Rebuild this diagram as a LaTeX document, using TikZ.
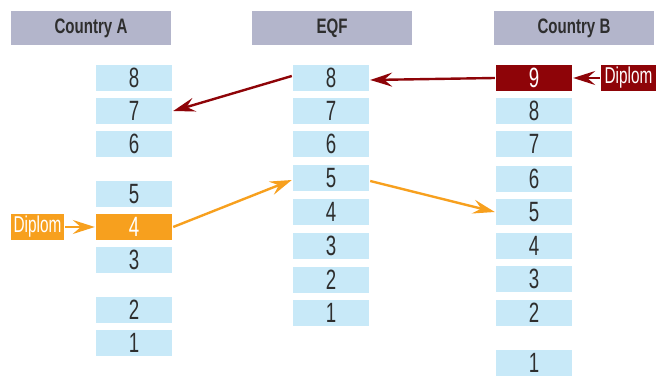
\documentclass[tikz,border=0pt]{standalone}
\usepackage{fontspec}
\setmainfont{Liberation Sans}[FakeStretch=0.8]
\newfontfamily\condfont{Liberation Sans}[FakeStretch=0.67]
\newfontfamily\headfont{Liberation Sans}[FakeStretch=0.72]
\usepackage{tikz}
\usetikzlibrary{arrows.meta}
\usetikzlibrary{shapes}
\definecolor{levelblue}{HTML}{C8E9F8}
\definecolor{headgray}{HTML}{B3B5CB}
\definecolor{diplred}{HTML}{8E0408}
\definecolor{diplorange}{HTML}{F7A01E}
\definecolor{numgray}{HTML}{2E2E2E}
\tikzset{
  level/.style={fill=levelblue,draw=none,minimum width=76bp,minimum height=26bp,inner sep=0pt,text=numgray,font=\condfont\fontsize{28}{28}\selectfont},
  head/.style={fill=headgray,draw=none,minimum width=160bp,minimum height=34bp,inner sep=0pt,text=numgray,font=\headfont\fontsize{21}{21}\selectfont\bfseries},
  diplom/.style={draw=none,minimum height=26bp,inner sep=0pt,text=white,font=\condfont\fontsize{23}{23}\selectfont},
}
\begin{document}
\begin{tikzpicture}[>={Stealth[length=22bp,width=14bp,inset=8bp]},line join=bevel,line width=2.4bp]
\useasboundingbox (0bp,0bp) rectangle (656bp,376bp);
%%
\node (head_a) at (91bp,348bp) [head] {Country A};
  \node (head_e) at (332bp,348bp) [head] {EQF};
  \node (head_b) at (574bp,348bp) [head] {Country B};
%
\node (node_a8) at (134bp,298bp) [level] {8};
  \node (node_a7) at (134bp,265bp) [level] {7};
  \node (node_a6) at (134bp,232bp) [level] {6};
  \node (node_a5) at (134bp,182bp) [level] {5};
  \node (node_a4) at (134bp,149bp) [level,fill=diplorange,text=white] {4};
  \node (node_a3) at (134bp,116bp) [level] {3};
  \node (node_a2) at (134bp,66bp) [level] {2};
  \node (node_a1) at (134bp,33bp) [level] {1};
%
\node (node_e8) at (331bp,298bp) [level] {8};
  \node (node_e7) at (331bp,265bp) [level] {7};
  \node (node_e6) at (331bp,232bp) [level] {6};
  \node (node_e5) at (331bp,198bp) [level] {5};
  \node (node_e4) at (331bp,164bp) [level] {4};
  \node (node_e3) at (331bp,130bp) [level] {3};
  \node (node_e2) at (331bp,96bp) [level] {2};
  \node (node_e1) at (331bp,63bp) [level] {1};
%
\node (node_b9) at (534bp,298bp) [level,fill=diplred,text=white] {9};
  \node (node_b8) at (534bp,265bp) [level] {8};
  \node (node_b7) at (534bp,232bp) [level] {7};
  \node (node_b6) at (534bp,197bp) [level] {6};
  \node (node_b5) at (534bp,164bp) [level] {5};
  \node (node_b4) at (534bp,130bp) [level] {4};
  \node (node_b3) at (534bp,97bp) [level] {3};
  \node (node_b2) at (534bp,63bp) [level] {2};
  \node (node_b1) at (534bp,13bp) [level] {1};
%
\node (dipl_a) at (37.5bp,149bp) [diplom,fill=diplorange,minimum width=53bp] {Diplom};
  \node (dipl_b) at (628.5bp,298bp) [diplom,fill=diplred,minimum width=55bp] {Diplom};
%
\draw [diplred,->] (dipl_b) -- (node_b9);
  \draw [diplred,->] (node_b9.west) -- ([yshift=-2bp]node_e8.east);
  \draw [diplred,->] ([yshift=2bp]node_e8.west) -- (node_a7.east);
  \draw [diplorange,->] (dipl_a) -- (node_a4);
  \draw [diplorange,->] (node_a4.east) -- ([yshift=-2bp]node_e5.west);
  \draw [diplorange,->] ([yshift=-3bp]node_e5.east) -- (node_b5.west);
%
\end{tikzpicture}
\end{document}
